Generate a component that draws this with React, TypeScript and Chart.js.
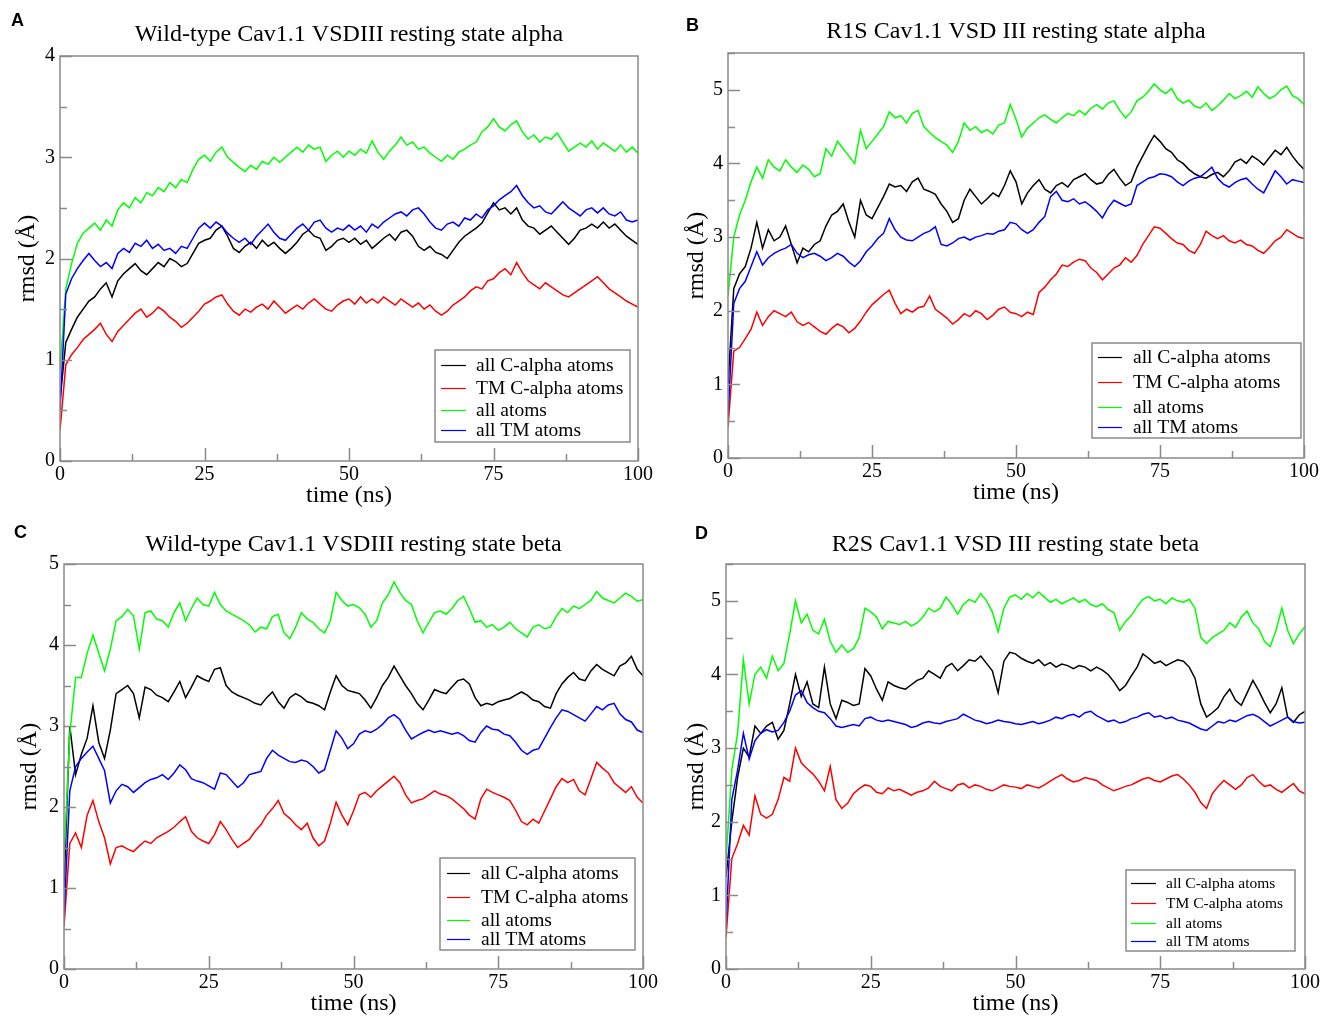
import React, { useEffect, useRef } from "react";
import { Chart, registerables } from "chart.js";

Chart.register(...registerables);

// ---------- data (time in ns, rmsd in Å) ----------
const TIME_NS = Array.from({ length: 101 }, (_, i) => i);
const LEGEND_LABELS = ["all C-alpha atoms", "TM C-alpha atoms", "all atoms", "all TM atoms"];
const SERIES_COLORS = ["#000000", "#ff0000", "#00ff00", "#0000ff"];

// Panel A: Wild-type Cav1.1 VSDIII resting state alpha
const A_ALL_CALPHA = [
  0.6, 1.17, 1.3, 1.42, 1.5, 1.58, 1.62, 1.7, 1.76, 1.62,
  1.78, 1.85, 1.9, 1.95, 1.88, 1.84, 1.9, 1.96, 1.92, 2.0,
  1.97, 1.92, 1.95, 2.05, 2.15, 2.18, 2.2, 2.28, 2.32, 2.22,
  2.1, 2.06, 2.12, 2.16, 2.1, 2.18, 2.12, 2.16, 2.1, 2.05,
  2.1, 2.16, 2.24, 2.28, 2.22, 2.2, 2.08, 2.12, 2.18, 2.2,
  2.16, 2.2, 2.14, 2.18, 2.1, 2.15, 2.2, 2.24, 2.18, 2.26,
  2.28, 2.22, 2.12, 2.08, 2.12, 2.06, 2.04, 2.0, 2.08, 2.16,
  2.22, 2.26, 2.3, 2.35, 2.45, 2.55, 2.48, 2.5, 2.44, 2.5,
  2.38, 2.32, 2.3, 2.24, 2.28, 2.32, 2.26, 2.2, 2.14, 2.2,
  2.28, 2.3, 2.34, 2.3, 2.36, 2.3, 2.34, 2.28, 2.22, 2.18,
  2.14,
];
const A_TM_CALPHA = [
  0.3, 0.95, 1.05, 1.12, 1.2, 1.25, 1.3, 1.36, 1.25, 1.18,
  1.28, 1.34, 1.4, 1.46, 1.5, 1.42, 1.46, 1.52, 1.48, 1.42,
  1.38, 1.32, 1.36, 1.42, 1.48, 1.55, 1.58, 1.62, 1.64, 1.55,
  1.48, 1.44, 1.5, 1.47, 1.52, 1.55, 1.5, 1.58, 1.52, 1.46,
  1.5, 1.54, 1.5, 1.56, 1.6, 1.55, 1.5, 1.48, 1.54, 1.58,
  1.6, 1.55, 1.62, 1.56, 1.6, 1.56, 1.62, 1.58, 1.54, 1.6,
  1.56, 1.52, 1.56, 1.5, 1.54, 1.48, 1.44, 1.48, 1.54, 1.58,
  1.62, 1.68, 1.72, 1.7, 1.78, 1.8, 1.86, 1.9, 1.84, 1.96,
  1.86, 1.78, 1.74, 1.7, 1.76, 1.72, 1.68, 1.64, 1.62, 1.66,
  1.7, 1.74, 1.78, 1.82, 1.76, 1.7, 1.66, 1.62, 1.58, 1.55,
  1.52,
];
const A_ALL_ATOMS = [
  0.9, 1.7, 1.95, 2.15, 2.25, 2.3, 2.35, 2.28, 2.38, 2.32,
  2.48, 2.55, 2.5, 2.6, 2.55, 2.65, 2.62, 2.7, 2.66, 2.75,
  2.7, 2.78, 2.75, 2.88, 2.98, 3.02, 2.96, 3.05, 3.1, 3.0,
  2.95, 2.9, 2.86, 2.92, 2.88, 2.96, 2.93, 3.0, 2.95, 3.0,
  3.05, 3.1, 3.05, 3.12, 3.08, 3.1, 2.96, 3.02, 3.06, 3.0,
  3.06, 3.02, 3.08, 3.04, 3.16, 3.05, 2.98, 3.06, 3.12, 3.2,
  3.12, 3.15, 3.08, 3.1, 3.04, 3.0, 2.96, 3.02, 2.98, 3.05,
  3.08, 3.12, 3.15, 3.25, 3.3, 3.38, 3.3, 3.26, 3.32, 3.36,
  3.25, 3.18, 3.22, 3.15, 3.2, 3.18, 3.24, 3.15, 3.06, 3.1,
  3.14, 3.1, 3.16, 3.08, 3.14, 3.1, 3.06, 3.12, 3.05, 3.1,
  3.04,
];
const A_ALL_TM = [
  0.5, 1.65, 1.8, 1.9, 1.98, 2.05, 1.98, 1.92, 1.96, 1.9,
  2.05, 2.1, 2.06, 2.15, 2.12, 2.18, 2.1, 2.14, 2.08, 2.1,
  2.05, 2.12, 2.1, 2.2, 2.3, 2.35, 2.3, 2.36, 2.32, 2.25,
  2.2, 2.16, 2.2, 2.14, 2.22, 2.28, 2.34, 2.26, 2.2, 2.18,
  2.24, 2.3, 2.34, 2.28, 2.36, 2.38, 2.3, 2.26, 2.3, 2.28,
  2.33, 2.28, 2.32, 2.26, 2.34, 2.3, 2.36, 2.4, 2.44, 2.46,
  2.42, 2.48, 2.5, 2.44, 2.36, 2.3, 2.28, 2.34, 2.36, 2.32,
  2.4, 2.38, 2.44, 2.4, 2.48, 2.52, 2.58, 2.62, 2.66, 2.72,
  2.62, 2.55, 2.5, 2.52, 2.46, 2.44, 2.5, 2.56, 2.5, 2.46,
  2.42, 2.48, 2.5, 2.45, 2.5, 2.44, 2.42, 2.46, 2.38, 2.36,
  2.38,
];

// Panel B: R1S Cav1.1 VSD III resting state alpha
const B_ALL_CALPHA = [
  1.0, 2.3, 2.5, 2.6, 2.85, 3.2, 2.85, 3.1, 2.95, 3.0,
  3.15, 2.9, 2.65, 2.85, 2.8, 2.9, 2.95, 3.15, 3.3, 3.35,
  3.45, 3.2, 3.0, 3.5, 3.3, 3.25, 3.4, 3.55, 3.72, 3.68,
  3.7, 3.62, 3.75, 3.8, 3.65, 3.62, 3.58, 3.45, 3.35, 3.2,
  3.25, 3.5, 3.65, 3.55, 3.45, 3.52, 3.6, 3.55, 3.7, 3.9,
  3.75, 3.45, 3.6, 3.7, 3.78, 3.65, 3.6, 3.7, 3.74, 3.68,
  3.78, 3.82, 3.86, 3.78, 3.72, 3.74, 3.85, 3.92, 3.8, 3.7,
  3.75, 3.95, 4.1, 4.25, 4.38, 4.3, 4.2, 4.15, 4.05, 4.0,
  3.92, 3.86, 3.82, 3.8, 3.85, 3.88, 3.82, 3.9, 4.02, 4.06,
  4.0, 4.1, 4.05, 3.98, 4.08, 4.18, 4.12, 4.22, 4.1, 4.0,
  3.92,
];
const B_TM_CALPHA = [
  0.42, 1.45, 1.5, 1.62, 1.75, 1.98, 1.8, 1.92, 2.0, 1.96,
  1.92, 1.98, 1.85, 1.8, 1.84, 1.78, 1.72, 1.68, 1.76, 1.82,
  1.78, 1.7, 1.76, 1.86, 1.98, 2.08, 2.15, 2.22, 2.28, 2.1,
  1.96, 2.02, 1.98, 2.04, 2.06, 2.2, 2.02, 1.96, 1.9, 1.82,
  1.88, 1.96, 1.92, 2.0, 1.96, 1.88, 1.94, 2.02, 2.05, 1.98,
  1.96, 1.92, 1.98, 1.95, 2.25, 2.32, 2.42, 2.5, 2.62, 2.6,
  2.66, 2.7, 2.68, 2.58, 2.52, 2.42, 2.5, 2.58, 2.62, 2.72,
  2.66, 2.75, 2.9, 3.02, 3.14, 3.12, 3.05, 2.98, 2.92, 2.9,
  2.82, 2.78, 2.9, 3.08, 3.02, 2.98, 3.02, 2.95, 2.92, 2.96,
  2.9, 2.88, 2.82, 2.78, 2.86, 2.95, 3.0, 3.1, 3.05, 3.0,
  2.98,
];
const B_ALL_ATOMS = [
  2.2, 3.0, 3.3, 3.5, 3.75, 3.95, 3.8, 4.05, 3.95, 3.9,
  4.05, 3.95, 3.88, 3.98, 3.92, 3.82, 3.86, 4.2, 4.1, 4.3,
  4.2, 4.1, 4.0, 4.45, 4.2, 4.3, 4.4, 4.5, 4.7, 4.62,
  4.65, 4.55, 4.68, 4.72, 4.5, 4.42, 4.35, 4.3, 4.25, 4.15,
  4.3, 4.55, 4.45, 4.5, 4.42, 4.46, 4.4, 4.52, 4.55, 4.8,
  4.6, 4.36, 4.48, 4.55, 4.62, 4.66, 4.6, 4.55, 4.62, 4.68,
  4.65, 4.72, 4.66, 4.75, 4.8, 4.74, 4.82, 4.85, 4.72, 4.62,
  4.7, 4.85, 4.9, 4.98, 5.08, 5.0, 4.95, 5.02, 4.88, 4.82,
  4.86, 4.78, 4.75, 4.82, 4.72, 4.78, 4.86, 4.95, 4.88, 4.92,
  4.98, 4.9, 5.04, 4.95, 4.88, 4.92, 5.0, 5.05, 4.92, 4.88,
  4.8,
];
const B_ALL_TM = [
  0.56, 2.1, 2.3, 2.4, 2.6, 2.8, 2.62, 2.72, 2.78, 2.82,
  2.85, 2.9, 2.78, 2.72, 2.76, 2.78, 2.74, 2.68, 2.72, 2.78,
  2.74, 2.66, 2.6, 2.68, 2.8, 2.88, 2.98, 3.05, 3.25, 3.1,
  3.0, 2.96, 2.95, 3.0, 3.05, 3.08, 3.14, 2.9, 2.88, 2.92,
  2.98, 3.0, 2.96, 3.0, 3.02, 3.05, 3.04, 3.08, 3.1, 3.2,
  3.18, 3.1, 3.05, 3.1, 3.2, 3.28, 3.55, 3.62, 3.5, 3.48,
  3.52, 3.45, 3.48, 3.42, 3.35, 3.26, 3.4, 3.5, 3.46, 3.42,
  3.45, 3.7, 3.75, 3.8, 3.82, 3.86, 3.85, 3.82, 3.75, 3.7,
  3.76, 3.8, 3.82, 3.88, 3.95, 3.8, 3.72, 3.68, 3.74, 3.78,
  3.8, 3.72, 3.65, 3.6, 3.75, 3.9, 3.82, 3.72, 3.78, 3.76,
  3.74,
];

// Panel C: Wild-type Cav1.1 VSDIII resting state beta
const C_ALL_CALPHA = [
  1.0, 3.0, 2.4, 2.65, 2.85, 3.25, 2.8, 2.6, 2.95, 3.4,
  3.45, 3.5, 3.4, 3.1, 3.48, 3.45, 3.38, 3.35, 3.3, 3.42,
  3.55, 3.35, 3.48, 3.62, 3.58, 3.55, 3.7, 3.72, 3.5, 3.42,
  3.38, 3.35, 3.32, 3.28, 3.26, 3.35, 3.42, 3.3, 3.22, 3.35,
  3.4, 3.36, 3.3, 3.28, 3.25, 3.2, 3.42, 3.62, 3.5, 3.44,
  3.42, 3.4, 3.32, 3.22, 3.35, 3.5, 3.6, 3.74, 3.62, 3.5,
  3.4, 3.28, 3.2, 3.32, 3.45, 3.42, 3.4, 3.48, 3.56, 3.58,
  3.52, 3.35, 3.25, 3.28, 3.26, 3.3, 3.32, 3.34, 3.38, 3.42,
  3.38, 3.32, 3.3, 3.24, 3.22, 3.4, 3.52, 3.6, 3.66, 3.58,
  3.56, 3.68, 3.76, 3.7, 3.66, 3.62, 3.74, 3.78, 3.86, 3.7,
  3.62,
];
const C_TM_CALPHA = [
  0.52, 1.55, 1.68, 1.5, 1.9, 2.08, 1.82, 1.62, 1.3, 1.5,
  1.52, 1.48, 1.45, 1.52, 1.58, 1.55, 1.62, 1.66, 1.7, 1.75,
  1.82, 1.88, 1.7, 1.62, 1.58, 1.55, 1.66, 1.82, 1.72, 1.6,
  1.5, 1.55, 1.6, 1.7, 1.78, 1.9, 1.98, 2.08, 1.92, 1.86,
  1.78, 1.72, 1.8, 1.62, 1.52, 1.58, 1.8, 2.06, 1.9, 1.78,
  1.95, 2.15, 2.18, 2.12, 2.2, 2.26, 2.32, 2.38, 2.3, 2.15,
  2.05, 2.08, 2.1, 2.15, 2.2, 2.16, 2.14, 2.1, 2.04, 1.98,
  1.9, 1.85, 2.1, 2.22, 2.18, 2.15, 2.12, 2.08, 1.96, 1.82,
  1.78, 1.85, 1.8, 1.95, 2.1, 2.25, 2.35, 2.3, 2.34, 2.2,
  2.15, 2.35, 2.55, 2.48, 2.42, 2.3, 2.24, 2.18, 2.25, 2.12,
  2.05,
];
const C_ALL_ATOMS = [
  1.35, 2.9, 3.6, 3.6, 3.9, 4.12, 3.9, 3.68, 3.95, 4.3,
  4.35, 4.44, 4.36, 3.95, 4.4, 4.42, 4.32, 4.3, 4.22, 4.4,
  4.52, 4.3, 4.45, 4.58, 4.5, 4.48, 4.65, 4.5, 4.42, 4.38,
  4.34, 4.3, 4.25, 4.16, 4.22, 4.2, 4.35, 4.38, 4.15, 4.08,
  4.22, 4.4, 4.32, 4.28, 4.2, 4.15, 4.3, 4.65, 4.55, 4.48,
  4.5, 4.46, 4.38, 4.22, 4.3, 4.52, 4.62, 4.78, 4.65, 4.55,
  4.5, 4.3, 4.15, 4.28, 4.4, 4.42, 4.38, 4.45, 4.55, 4.6,
  4.45, 4.28, 4.3, 4.22, 4.25, 4.18, 4.22, 4.28, 4.2, 4.15,
  4.1, 4.22, 4.25, 4.2, 4.22, 4.35, 4.45, 4.4, 4.48, 4.45,
  4.5, 4.55, 4.66, 4.58, 4.55, 4.52, 4.58, 4.64, 4.6, 4.54,
  4.56,
];
const C_ALL_TM = [
  0.65, 2.2, 2.5, 2.6, 2.68, 2.75, 2.6, 2.45, 2.05, 2.2,
  2.28, 2.25, 2.18, 2.24, 2.3, 2.34, 2.36, 2.4, 2.34, 2.42,
  2.52, 2.46, 2.35, 2.32, 2.3, 2.26, 2.22, 2.42, 2.4, 2.32,
  2.24, 2.3, 2.4, 2.42, 2.44, 2.6, 2.7, 2.64, 2.6, 2.56,
  2.55, 2.58, 2.56, 2.5, 2.42, 2.46, 2.7, 2.94, 2.85, 2.72,
  2.78, 2.9, 2.94, 2.92, 2.96, 3.02, 3.1, 3.14, 3.08, 2.95,
  2.84, 2.88, 2.92, 2.95, 2.92, 2.94, 2.92, 2.9, 2.92, 2.88,
  2.82, 2.8, 2.92, 3.0, 2.96, 2.95, 2.9, 2.88, 2.8, 2.7,
  2.65, 2.7, 2.72, 2.85, 2.98, 3.1, 3.2, 3.18, 3.14, 3.1,
  3.06, 3.15, 3.24, 3.2, 3.26, 3.28, 3.15, 3.08, 3.05, 2.95,
  2.92,
];

// Panel D: R2S Cav1.1 VSD III resting state beta
const D_ALL_CALPHA = [
  1.25, 2.0, 2.6, 3.0, 2.88, 3.3, 3.2, 3.3, 3.35, 3.12,
  3.24, 3.6, 4.0, 3.7, 3.9, 3.6, 3.55, 4.1, 3.6, 3.4,
  3.65, 3.62, 3.58, 3.6, 4.08, 3.98, 3.8, 3.65, 3.9, 3.85,
  3.82, 3.8, 3.86, 3.92, 3.95, 4.05, 4.0, 3.95, 4.1, 4.15,
  4.05, 4.12, 4.2, 4.18, 4.25, 4.15, 4.05, 3.75, 4.18, 4.3,
  4.28, 4.22, 4.18, 4.15, 4.2, 4.12, 4.16, 4.1, 4.14, 4.12,
  4.08, 4.12, 4.1, 4.05, 4.1, 4.06, 4.0, 3.9, 3.78, 3.85,
  3.98, 4.1, 4.28, 4.22, 4.15, 4.18, 4.12, 4.16, 4.2, 4.18,
  4.1, 3.95, 3.6, 3.42, 3.48, 3.55, 3.7, 3.8, 3.65, 3.58,
  3.75, 3.92, 3.78, 3.62, 3.48, 3.6, 3.82, 3.42, 3.35, 3.45,
  3.5,
];
const D_TM_CALPHA = [
  0.43, 1.5, 1.7, 1.95, 1.82, 2.35, 2.1, 2.05, 2.1, 2.3,
  2.6, 2.55, 3.0, 2.8, 2.72, 2.65, 2.55, 2.42, 2.75, 2.3,
  2.18, 2.25, 2.38, 2.45, 2.5, 2.48, 2.4, 2.38, 2.46, 2.42,
  2.44, 2.4, 2.36, 2.4, 2.42, 2.46, 2.55, 2.48, 2.45, 2.42,
  2.5, 2.52, 2.46, 2.5, 2.48, 2.44, 2.42, 2.46, 2.5, 2.48,
  2.47, 2.45, 2.5, 2.48, 2.46, 2.5, 2.55, 2.6, 2.64, 2.58,
  2.54, 2.56, 2.6, 2.58, 2.56, 2.5, 2.46, 2.42, 2.45, 2.48,
  2.5, 2.54, 2.58, 2.6, 2.56, 2.54, 2.58, 2.62, 2.64, 2.58,
  2.5, 2.4, 2.26, 2.18, 2.38, 2.48, 2.56, 2.5, 2.44, 2.5,
  2.6, 2.64, 2.55, 2.48, 2.5, 2.44, 2.4, 2.46, 2.52, 2.42,
  2.38,
];
const D_ALL_ATOMS = [
  1.48, 2.7, 3.2, 4.2, 3.6, 4.0, 4.1, 3.95, 4.25, 4.05,
  4.15, 4.55, 5.0, 4.7, 4.82, 4.6, 4.55, 4.75, 4.45, 4.3,
  4.4, 4.3, 4.35, 4.5, 4.9, 4.85, 4.78, 4.62, 4.72, 4.7,
  4.68, 4.72, 4.66, 4.7, 4.78, 4.9, 4.85, 4.9, 5.05, 4.95,
  4.82, 4.95, 5.02, 4.98, 5.1, 5.0, 4.85, 4.58, 4.9, 5.05,
  5.08, 5.02, 5.1, 5.04, 5.12, 5.05, 4.98, 5.02, 4.96, 5.0,
  5.04, 4.98, 5.02, 4.95, 4.92, 4.96, 4.88, 4.84, 4.6, 4.72,
  4.8, 4.92, 5.02, 5.06, 5.0, 5.02, 4.96, 5.04, 5.0, 4.98,
  5.02, 4.9, 4.5, 4.42, 4.5, 4.55, 4.6, 4.7, 4.64, 4.78,
  4.86, 4.7, 4.62, 4.45, 4.38, 4.6, 4.9, 4.6, 4.42, 4.55,
  4.65,
];
const D_ALL_TM = [
  0.57, 2.3, 2.7, 3.2, 2.85, 3.1, 3.2, 3.25, 3.22, 3.24,
  3.35, 3.5, 3.72, 3.78, 3.62, 3.55, 3.5, 3.48, 3.4, 3.3,
  3.28, 3.3, 3.32, 3.3, 3.4, 3.42, 3.38, 3.36, 3.38, 3.36,
  3.34, 3.32, 3.28, 3.3, 3.34, 3.36, 3.34, 3.33, 3.36, 3.38,
  3.4, 3.46, 3.42, 3.38, 3.36, 3.33, 3.35, 3.38, 3.36, 3.35,
  3.33, 3.32, 3.34, 3.36, 3.33, 3.35, 3.38, 3.42, 3.4, 3.44,
  3.46, 3.42, 3.48, 3.5, 3.44, 3.4, 3.36, 3.38, 3.34, 3.36,
  3.4, 3.42, 3.46, 3.48, 3.42, 3.44, 3.4, 3.42, 3.38, 3.36,
  3.34, 3.3, 3.26, 3.24, 3.3, 3.36, 3.34, 3.38, 3.36, 3.4,
  3.44, 3.46, 3.42, 3.36, 3.3, 3.34, 3.38, 3.42, 3.36, 3.34,
  3.35,
];

// ---------- styling / layout ----------
const SERIF = '"Liberation Serif", "Times New Roman", Times, serif';
const SANS = '"Liberation Sans", Arial, Helvetica, sans-serif';
const FRAME_COLOR = "#8a8a8a";
const TITLE_SIZE = 24;
const AXIS_TITLE_SIZE = 24;
const TICK_SIZE = 20;

type Rect = { x: number; y: number; w: number; h: number };
type PanelCfg = {
  key: string;
  letter: string;
  title: string;
  canvas: Rect;
  plot: { l: number; t: number; r: number; b: number };
  titleY: number;
  xTitleY: number;
  yTitleX: number;
  yMax: number;
  letterPos: { x: number; y: number };
  legend: { x: number; y: number; w: number; h: number; rows: number[]; lx1: number; lx2: number; tx: number; font: number };
  series: number[][];
};

const PANELS: PanelCfg[] = [
  {
    key: "A", letter: "A", title: "Wild-type Cav1.1 VSDIII resting state alpha",
    canvas: { x: 0, y: 0, w: 662, h: 520 },
    plot: { l: 60, t: 56, r: 638, b: 461 },
    titleY: 35, xTitleY: 496, yTitleX: 28, yMax: 4,
    letterPos: { x: 18, y: 20 },
    legend: { x: 435, y: 350, w: 195, h: 92, rows: [365, 388, 410, 430], lx1: 441, lx2: 466, tx: 476, font: 19.5 },
    series: [A_ALL_CALPHA, A_TM_CALPHA, A_ALL_ATOMS, A_ALL_TM],
  },
  {
    key: "B", letter: "B", title: "R1S Cav1.1 VSD III resting state alpha",
    canvas: { x: 662, y: 0, w: 663, h: 520 },
    plot: { l: 728, t: 53, r: 1304, b: 458 },
    titleY: 32, xTitleY: 493, yTitleX: 697, yMax: 5.5,
    letterPos: { x: 693, y: 25 },
    legend: { x: 1092, y: 343, w: 209, h: 95, rows: [357, 382, 407, 427], lx1: 1098, lx2: 1122, tx: 1133, font: 19.5 },
    series: [B_ALL_CALPHA, B_TM_CALPHA, B_ALL_ATOMS, B_ALL_TM],
  },
  {
    key: "C", letter: "C", title: "Wild-type Cav1.1 VSDIII resting state beta",
    canvas: { x: 0, y: 520, w: 662, h: 496 },
    plot: { l: 64, t: 564, r: 643, b: 969 },
    titleY: 545, xTitleY: 1004, yTitleX: 30, yMax: 5,
    letterPos: { x: 21, y: 532 },
    legend: { x: 440, y: 858, w: 195, h: 92, rows: [873, 897, 920, 939], lx1: 447, lx2: 470, tx: 481, font: 19.5 },
    series: [C_ALL_CALPHA, C_TM_CALPHA, C_ALL_ATOMS, C_ALL_TM],
  },
  {
    key: "D", letter: "D", title: "R2S Cav1.1 VSD III resting state beta",
    canvas: { x: 662, y: 520, w: 663, h: 496 },
    plot: { l: 726, t: 564, r: 1305, b: 969 },
    titleY: 545, xTitleY: 1004, yTitleX: 697, yMax: 5.5,
    letterPos: { x: 702, y: 533 },
    legend: { x: 1126, y: 870, w: 169, h: 81, rows: [883, 903, 923, 941], lx1: 1131, lx2: 1156, tx: 1166, font: 15.5 },
    series: [D_ALL_CALPHA, D_TM_CALPHA, D_ALL_ATOMS, D_ALL_TM],
  },
];

function makeFramePlugin(cfg: PanelCfg) {
  return {
    id: "xmFrame" + cfg.key,
    afterDraw(chart: any) {
      const { ctx, chartArea: a, scales } = chart;
      const ox = cfg.canvas.x;
      const oy = cfg.canvas.y;
      ctx.save();
      ctx.strokeStyle = FRAME_COLOR;
      ctx.lineWidth = 1.5;
      ctx.strokeRect(a.left, a.top, a.right - a.left, a.bottom - a.top);
      // inward ticks on bottom axis
      for (let v = 0; v <= 100; v += 12.5) {
        const px = Math.round(scales.x.getPixelForValue(v)) + 0.5;
        const len = v % 25 === 0 ? 13 : 7;
        ctx.beginPath();
        ctx.moveTo(px, a.bottom);
        ctx.lineTo(px, a.bottom - len);
        ctx.stroke();
      }
      // inward ticks on left axis
      for (let v = 0; v <= cfg.yMax + 1e-9; v += 0.5) {
        const py = Math.round(scales.y.getPixelForValue(v)) + 0.5;
        const len = Math.abs(v - Math.round(v)) < 1e-9 ? 12 : 7;
        ctx.beginPath();
        ctx.moveTo(a.left, py);
        ctx.lineTo(a.left + len, py);
        ctx.stroke();
      }
      // legend box
      const L = cfg.legend;
      ctx.fillStyle = "#ffffff";
      ctx.fillRect(L.x - ox, L.y - oy, L.w, L.h);
      ctx.strokeStyle = FRAME_COLOR;
      ctx.lineWidth = 1.5;
      ctx.strokeRect(L.x - ox, L.y - oy, L.w, L.h);
      ctx.font = `${L.font}px ${SERIF}`;
      ctx.textBaseline = "middle";
      ctx.textAlign = "left";
      LEGEND_LABELS.forEach((lab, i) => {
        const y = L.rows[i] - oy;
        ctx.strokeStyle = SERIES_COLORS[i];
        ctx.lineWidth = 1.2;
        ctx.beginPath();
        ctx.moveTo(L.lx1 - ox, y + 0.5);
        ctx.lineTo(L.lx2 - ox, y + 0.5);
        ctx.stroke();
        ctx.fillStyle = "#000000";
        ctx.fillText(lab, L.tx - ox, y + 1);
      });
      ctx.restore();
    },
  };
}

function Panel({ cfg }: { cfg: PanelCfg }) {
  const ref = useRef<HTMLCanvasElement | null>(null);

  useEffect(() => {
    if (!ref.current) return;
    const c = cfg.canvas;
    const p = cfg.plot;
    const titleLH = TITLE_SIZE * 1.2;
    const axisLH = AXIS_TITLE_SIZE * 1.2;
    const titlePadTop = cfg.titleY - c.y - titleLH / 2;
    const titlePadBottom = p.t - c.y - titlePadTop - titleLH;
    const yAxisWidth = p.l - c.x;
    const xAxisHeight = c.y + c.h - p.b;
    const rightPad = c.x + c.w - p.r;

    const datasets = cfg.series.map((vals, i) => ({
      label: LEGEND_LABELS[i],
      data: TIME_NS.map((t, k) => ({ x: t, y: vals[k] })),
      borderColor: SERIES_COLORS[i],
      backgroundColor: SERIES_COLORS[i],
      borderWidth: 1.5,
      pointRadius: 0,
      tension: 0,
      fill: false,
      order: 4 - i,
    }));

    const chart = new Chart(ref.current, {
      type: "line",
      data: { datasets },
      options: {
        animation: false,
        responsive: false,
        maintainAspectRatio: false,
        devicePixelRatio: 1,
        layout: { padding: { left: 0, right: rightPad, top: 0, bottom: 0 } },
        plugins: {
          legend: { display: false },
          tooltip: { enabled: false },
          title: {
            display: true,
            text: cfg.title,
            fullSize: false,
            color: "#000",
            font: { family: SERIF, size: TITLE_SIZE, weight: "normal" },
            padding: { top: titlePadTop, bottom: titlePadBottom },
          },
        },
        scales: {
          x: {
            type: "linear",
            min: 0,
            max: 100,
            grid: { display: false, drawTicks: false },
            border: { display: false },
            ticks: {
              stepSize: 25,
              color: "#000",
              font: { family: SERIF, size: TICK_SIZE },
              padding: 2,
              maxRotation: 0,
              autoSkip: false,
              includeBounds: false,
            },
            title: {
              display: true,
              text: "time (ns)",
              color: "#000",
              font: { family: SERIF, size: AXIS_TITLE_SIZE },
              padding: { top: 0, bottom: c.y + c.h - cfg.xTitleY - axisLH / 2 },
            },
            afterFit: (s: any) => {
              s.height = xAxisHeight;
            },
          },
          y: {
            type: "linear",
            min: 0,
            max: cfg.yMax,
            grid: { display: false, drawTicks: false },
            border: { display: false },
            ticks: {
              stepSize: 1,
              color: "#000",
              font: { family: SERIF, size: TICK_SIZE },
              padding: 5,
              includeBounds: false,
            },
            title: {
              display: true,
              text: "rmsd (Å)",
              color: "#000",
              font: { family: SERIF, size: AXIS_TITLE_SIZE },
              padding: { top: cfg.yTitleX - c.x - axisLH / 2, bottom: 0 },
            },
            afterFit: (s: any) => {
              s.width = yAxisWidth;
            },
          },
        },
      } as any,
      plugins: [makeFramePlugin(cfg)],
    });
    return () => chart.destroy();
  }, [cfg]);

  const c = cfg.canvas;
  return (
    <>
      <canvas
        ref={ref}
        width={c.w}
        height={c.h}
        style={{ position: "absolute", left: c.x, top: c.y, width: c.w, height: c.h }}
      />
      <div
        style={{
          position: "absolute",
          left: cfg.letterPos.x - 7,
          top: cfg.letterPos.y - 11,
          fontFamily: SANS,
          fontWeight: "bold",
          fontSize: 18,
          lineHeight: "22px",
          color: "#000",
        }}
      >
        {cfg.letter}
      </div>
    </>
  );
}

export default function App() {
  return (
    <div style={{ position: "absolute", left: 0, top: 0, width: 1325, height: 1016, background: "#fff", overflow: "hidden" }}>
      {PANELS.map((p) => (
        <Panel key={p.key} cfg={p} />
      ))}
    </div>
  );
}
